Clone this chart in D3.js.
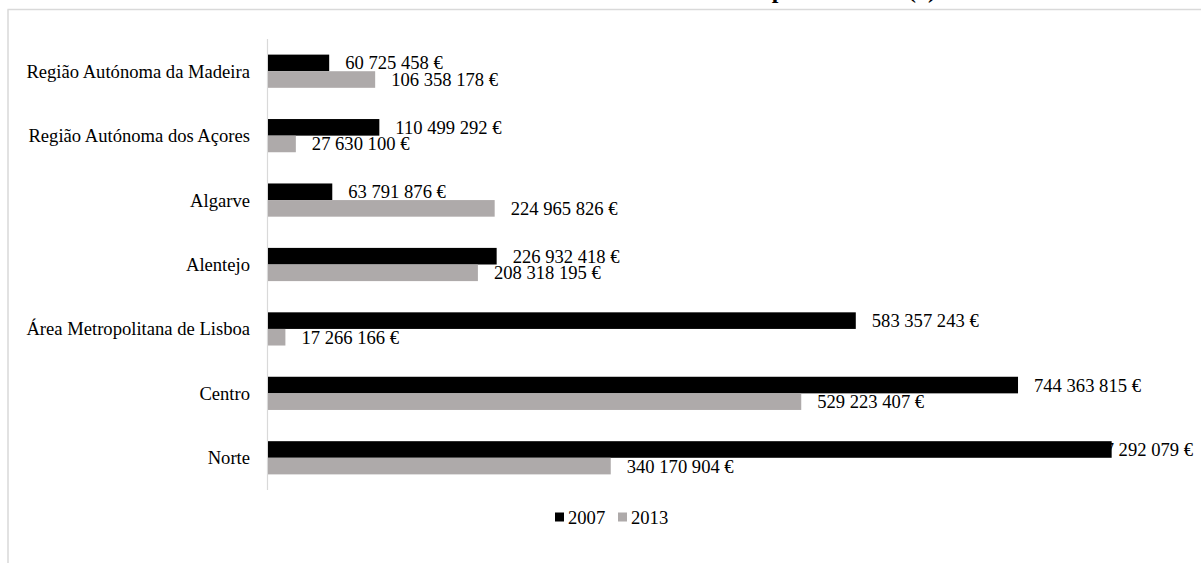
<!DOCTYPE html>
<html>
<head>
<meta charset="utf-8">
<script src="https://cdn.jsdelivr.net/npm/d3@7"></script>
<style>
  html, body { margin: 0; padding: 0; background: #fff; }
  svg { display: block; }
  svg text { font-family: "Times New Roman", "Liberation Serif", Tinos, "DejaVu Serif", serif; }
</style>
</head>
<body>
<svg id="chart" width="1201" height="563"></svg>
<script>
// Regions (NUTS II), listed top to bottom
const regions = [
  "Região Autónoma da Madeira",
  "Região Autónoma dos Açores",
  "Algarve",
  "Alentejo",
  "Área Metropolitana de Lisboa",
  "Centro",
  "Norte"
];
const years = ["2007", "2013"];
const values2007 = [60725458, 110499292, 63791876, 226932418, 583357243, 744363815, 837292079];
const values2013 = [106358178, 27630100, 224965826, 208318195, 17266166, 529223407, 340170904];
const seriesColors = ["#000000", "#aeaaaa"];
const titleText = "Investimento por NUTS II (€)";

const FONT = "'Times New Roman', 'Liberation Serif', serif";
const svg = d3.select("#chart");
const W = 1201, H = 563;

const fmt = v => d3.format(",")(v).replace(/,/g, " ") + " €";

// outer frame (top and left edges visible)
svg.append("line").attr("x1", 7.5).attr("x2", W).attr("y1", 9.5).attr("y2", 9.5)
  .attr("stroke", "#d9d9d9").attr("stroke-width", 1.5);
svg.append("line").attr("x1", 8).attr("x2", 8).attr("y1", 9.5).attr("y2", H)
  .attr("stroke", "#d9d9d9").attr("stroke-width", 1.5);

// title, sitting above the frame
svg.append("text").attr("x", 936).attr("y", -2).attr("text-anchor", "end")
  .attr("font-family", FONT)
  .attr("font-weight", "bold").attr("font-size", 24).attr("fill", "#000")
  .text(titleText);

const x = d3.scaleLinear().domain([0, 1e9]).range([268, 268 + 1007.6]);
const y = d3.scaleBand().domain(regions).range([39, 490]);

const rows = regions.map((r, i) => ({ region: r, vals: [values2007[i], values2013[i]] }));

// vertical category axis line
svg.append("line").attr("x1", 267.5).attr("x2", 267.5).attr("y1", 39).attr("y2", 490)
  .attr("stroke", "#d9d9d9").attr("stroke-width", 1.2);

// category labels
svg.append("g").selectAll("text").data(regions).join("text")
  .attr("x", 250).attr("y", d => y(d) + y.bandwidth() / 2)
  .attr("text-anchor", "end").attr("dominant-baseline", "central")
  .attr("font-family", FONT)
  .attr("font-size", 18.6).attr("fill", "#000")
  .text(d => d);

const barH = 16.6;
const plotRight = 1193;

const groups = svg.append("g").selectAll("g").data(rows).join("g");

// value labels (drawn first so the bars sit on top)
groups.each(function(row) {
  const g = d3.select(this);
  const cy = y(row.region) + y.bandwidth() / 2;
  row.vals.forEach((v, k) => {
    const t = g.append("text")
      .attr("y", k === 0 ? cy - barH / 2 : cy + barH / 2)
      .attr("dominant-baseline", "central")
      .attr("font-family", FONT)
      .attr("font-size", 18.6).attr("fill", "#000")
      .text(fmt(v));
    const w = t.node().getComputedTextLength();
    t.attr("x", Math.min(x(v) + 16, plotRight - w));
  });
});

// bars
groups.each(function(row) {
  const g = d3.select(this);
  const cy = y(row.region) + y.bandwidth() / 2;
  row.vals.forEach((v, k) => {
    g.append("rect")
      .attr("x", x(0))
      .attr("y", k === 0 ? cy - barH : cy)
      .attr("width", x(v) - x(0))
      .attr("height", barH)
      .attr("fill", seriesColors[k]);
  });
});

// legend
const legend = svg.append("g");
const legendX = [555, 618];
years.forEach((yr, k) => {
  legend.append("rect").attr("x", legendX[k]).attr("y", 512.5).attr("width", 9).attr("height", 9)
    .attr("fill", seriesColors[k]);
  legend.append("text").attr("x", legendX[k] + 13).attr("y", 517)
    .attr("dominant-baseline", "central")
    .attr("font-family", FONT)
    .attr("font-size", 18.6).attr("fill", "#000")
    .text(yr);
});
</script>
</body>
</html>
